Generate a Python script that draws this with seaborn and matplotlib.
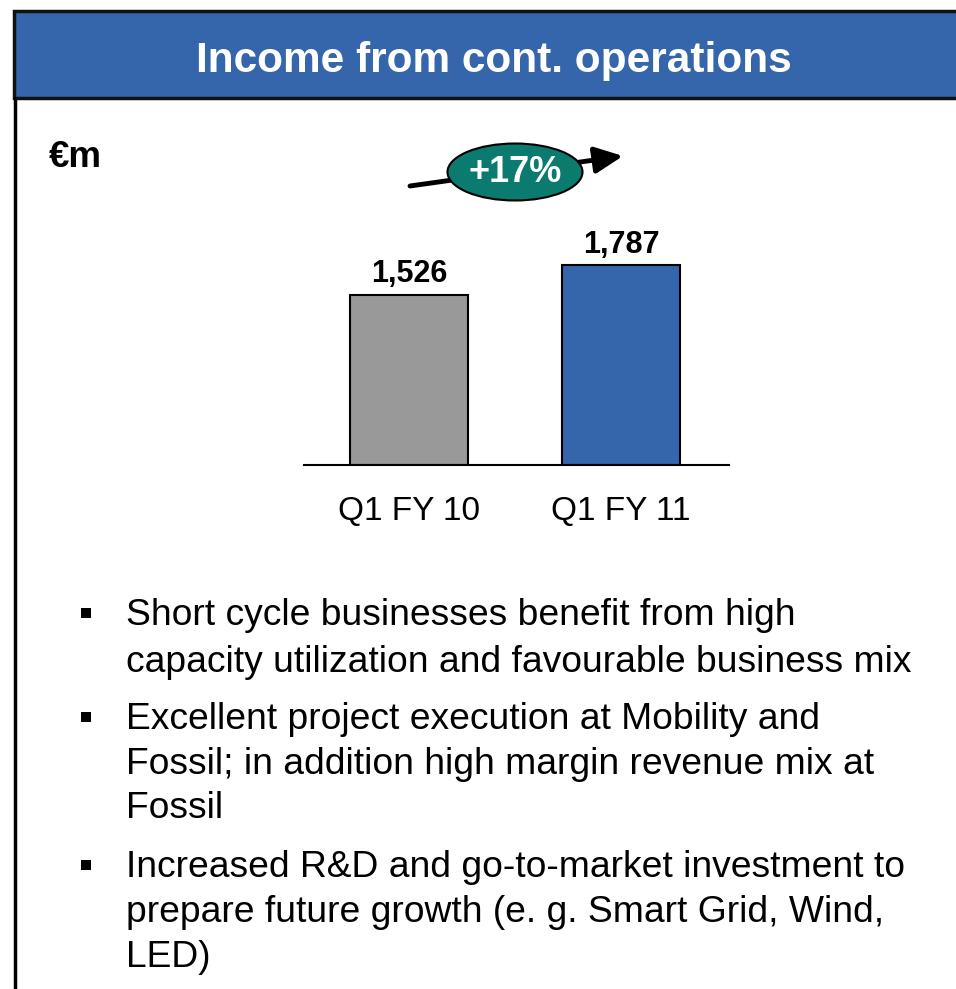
import matplotlib
matplotlib.use("Agg")
import matplotlib.pyplot as plt
import seaborn as sns
import pandas as pd
from matplotlib.patches import Rectangle, Ellipse, FancyArrowPatch
from matplotlib.lines import Line2D

# --- dati -------------------------------------------------------------------
periods = ["Q1 FY 10", "Q1 FY 11"]
income = [1526, 1787]
bar_colors = ["#999999", "#3566AB"]
growth_label = "+17%"
title = "Income from cont. operations"
unit = "€m"
bullets = [
    ["Short cycle businesses benefit from high",
     "capacity utilization and favourable business mix"],
    ["Excellent project execution at Mobility and",
     "Fossil; in addition high margin revenue mix at",
     "Fossil"],
    ["Increased R&D and go-to-market investment to",
     "prepare future growth (e. g. Smart Grid, Wind,",
     "LED)"],
]

W, H = 956, 989
sns.set_theme(style="white")
plt.rcParams["font.family"] = ["Liberation Sans", "DejaVu Sans"]
plt.rcParams["text.color"] = "black"
plt.rcParams["xtick.color"] = "black"
plt.rcParams["xtick.labelcolor"] = "black"

fig = plt.figure(figsize=(W / 100, H / 100), dpi=100)


def fx(px):
    return px / W


def fy(py):
    return 1 - py / H


# === cornice e intestazione ==================================================
fig.add_artist(Rectangle((fx(14), fy(98)), fx(960) - fx(14), fy(11) - fy(98),
                         transform=fig.transFigure, facecolor="#3566AB",
                         edgecolor="#111111", linewidth=2.5))
fig.add_artist(Line2D([fx(15), fx(15)], [fy(98), 0], transform=fig.transFigure,
                      color="black", linewidth=2.5))
fig.text(fx(494), fy(72), title, color="white", fontsize=30.5,
         fontweight="bold", ha="center", va="baseline")
fig.text(fx(49), fy(167), unit, fontsize=26.5, fontweight="bold",
         ha="left", va="baseline")

# === grafico a barre =========================================================
ax = fig.add_axes([fx(304), fy(465), fx(729) - fx(304), 2000 * 0.1117 / H])
df = pd.DataFrame({"period": periods, "income": income})
sns.barplot(data=df, x="period", y="income", hue="period",
            palette=bar_colors, saturation=1, width=0.557,
            edgecolor="black", linewidth=1.5, legend=False, ax=ax)
ax.set_ylim(0, 2000)
ax.set_xlim(-0.495, 1.509)
ax.set_xlabel("")
ax.set_ylabel("")
ax.set_yticks([])
ax.patch.set_alpha(0)
for s in ["top", "left", "right"]:
    ax.spines[s].set_visible(False)
ax.spines["bottom"].set_color("black")
ax.spines["bottom"].set_linewidth(1.5)
ax.tick_params(axis="x", length=0, pad=22, labelsize=24, labelcolor="black")
for c in ax.containers:
    ax.bar_label(c, labels=[f"{v:,.0f}" for v in c.datavalues],
                 fontsize=22, fontweight="bold", padding=4, clip_on=False)

# === freccia di crescita =====================================================
fig.add_artist(FancyArrowPatch((fx(410), fy(186)), (fx(623), fy(156)),
                               transform=fig.transFigure,
                               arrowstyle="-|>,head_length=0.85,head_width=0.4",
                               mutation_scale=20, linewidth=3.5,
                               color="black", shrinkA=0, shrinkB=0))
fig.add_artist(Ellipse((fx(515), fy(172)), fx(135), 57 / H,
                       transform=fig.transFigure, facecolor="#0B7B6F",
                       edgecolor="black", linewidth=1.5))
fig.text(fx(515), fy(172), growth_label, color="white", fontsize=26,
         fontweight="bold", ha="center", va="center")

# === punti elenco ============================================================
baselines = [[625, 672], [729, 774, 818], [877, 922, 967]]
for lines, ys in zip(bullets, baselines):
    fig.add_artist(Rectangle((fx(81), fy(ys[0] - 7)), fx(10), 10 / H,
                             transform=fig.transFigure, facecolor="black",
                             edgecolor="none"))
    for line, y in zip(lines, ys):
        fig.text(fx(126), fy(y), line, fontsize=26.8, ha="left",
                 va="baseline")

fig.savefig("out.png", dpi=100)
